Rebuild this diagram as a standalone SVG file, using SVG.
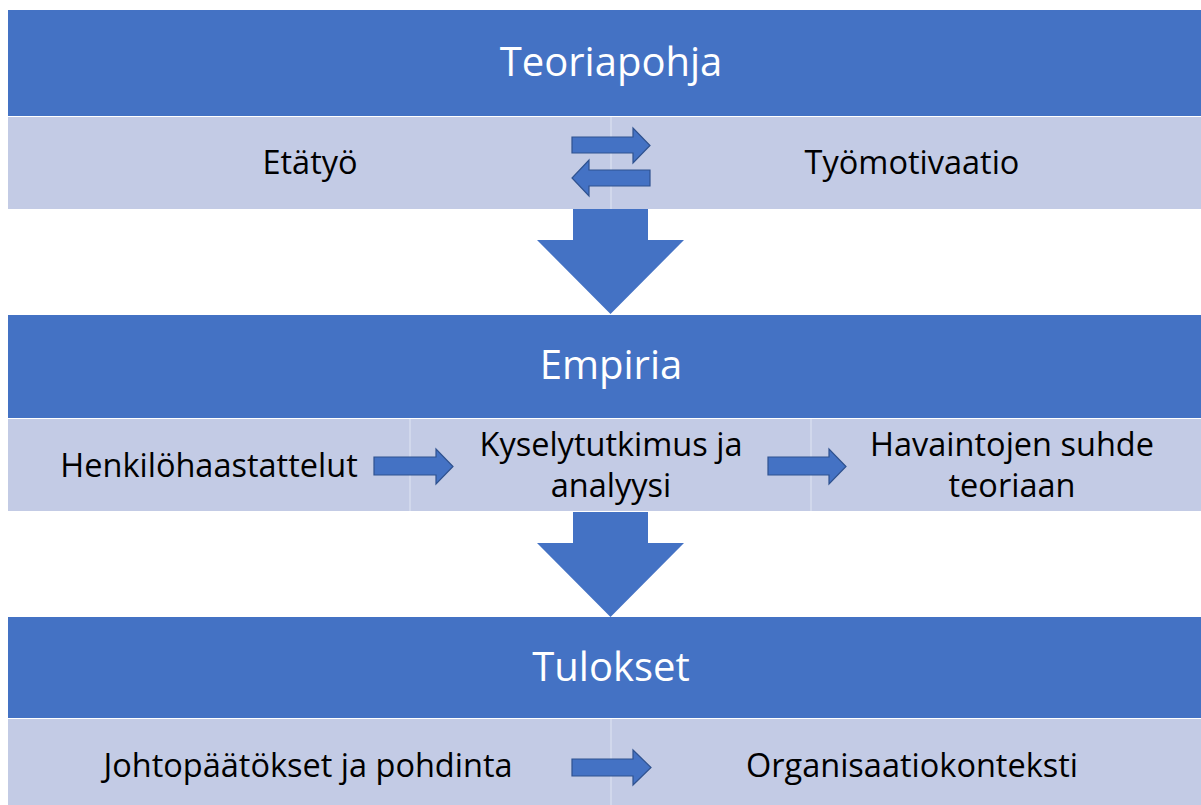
<svg xmlns="http://www.w3.org/2000/svg" width="1201" height="805" viewBox="0 0 1201 805">
<style>
.hdr{fill:#4472C4}
.band{fill:#C3CBE5}
.div{stroke:#D6DCEE;stroke-width:1.5}
.ht{font-family:"Open Sans","Liberation Sans",sans-serif;font-size:40px;fill:#FFFFFF;text-anchor:middle}
.bt{font-family:"Open Sans","Liberation Sans",sans-serif;font-size:32.5px;fill:#000000;text-anchor:middle}
.arr{fill:#4472C4;stroke:#2F528F;stroke-width:1.2}
.big{fill:#4472C4}
</style>
<rect width="1201" height="805" fill="#FFFFFF"/>
<g id="teoriapohja">
<rect class="hdr" x="8" y="10" width="1193" height="106"/>
<text class="ht" x="611" y="76">Teoriapohja</text>
</g>
<g id="teoria-band">
<rect class="band" x="8" y="117" width="1193" height="92"/>
<line class="div" x1="611" y1="117" x2="611" y2="209"/>
</g>
<g id="etatyo"><text class="bt" x="310" y="174">Etätyö</text></g>
<g id="tyomotivaatio"><text class="bt" x="912" y="174">Työmotivaatio</text></g>
<g id="empiria">
<rect class="hdr" x="8" y="315" width="1193" height="103"/>
<text class="ht" x="611" y="379">Empiria</text>
</g>
<g id="empiria-band">
<rect class="band" x="8" y="419" width="1193" height="92"/>
<line class="div" x1="410" y1="419" x2="410" y2="511"/>
<line class="div" x1="811" y1="419" x2="811" y2="511"/>
</g>
<g id="henkilohaastattelut"><text class="bt" x="209" y="477">Henkilöhaastattelut</text></g>
<g id="kyselytutkimus"><text class="bt" x="611" y="456">Kyselytutkimus ja</text><text class="bt" x="611" y="497">analyysi</text></g>
<g id="havaintojen"><text class="bt" x="1012" y="456">Havaintojen suhde</text><text class="bt" x="1012" y="497">teoriaan</text></g>
<g id="tulokset">
<rect class="hdr" x="8" y="617" width="1193" height="101"/>
<text class="ht" x="611" y="681">Tulokset</text>
</g>
<g id="tulokset-band">
<rect class="band" x="8" y="719" width="1193" height="86"/>
<line class="div" x1="611" y1="719" x2="611" y2="805"/>
</g>
<g id="johtopaatokset"><text class="bt" x="308" y="777">Johtopäätökset ja pohdinta</text></g>
<g id="organisaatiokonteksti"><text class="bt" x="912" y="777">Organisaatiokonteksti</text></g>
<g id="connectors">
<path class="arr" d="M572,137 H633 V128 L650,145.5 L633,163 V153 H572 Z"/>
<path class="arr" d="M650,170 H589 V160 L572,178 L589,196 V186 H650 Z"/>
<path class="big" d="M573,209 H648 V240 H684 L610.5,314 L537,240 H573 Z"/>
<path class="big" d="M573,512 H648 V543 H684 L610.5,617 L537,543 H573 Z"/>
<path class="arr" d="M374,457 H436 V449 L453,466.5 L436,484 V475 H374 Z"/>
<path class="arr" d="M768,457 H829 V449 L846,466.5 L829,484 V475 H768 Z"/>
<path class="arr" d="M572,759 H633 V750 L651,767.5 L633,785 V776 H572 Z"/>
</g>
</svg>
